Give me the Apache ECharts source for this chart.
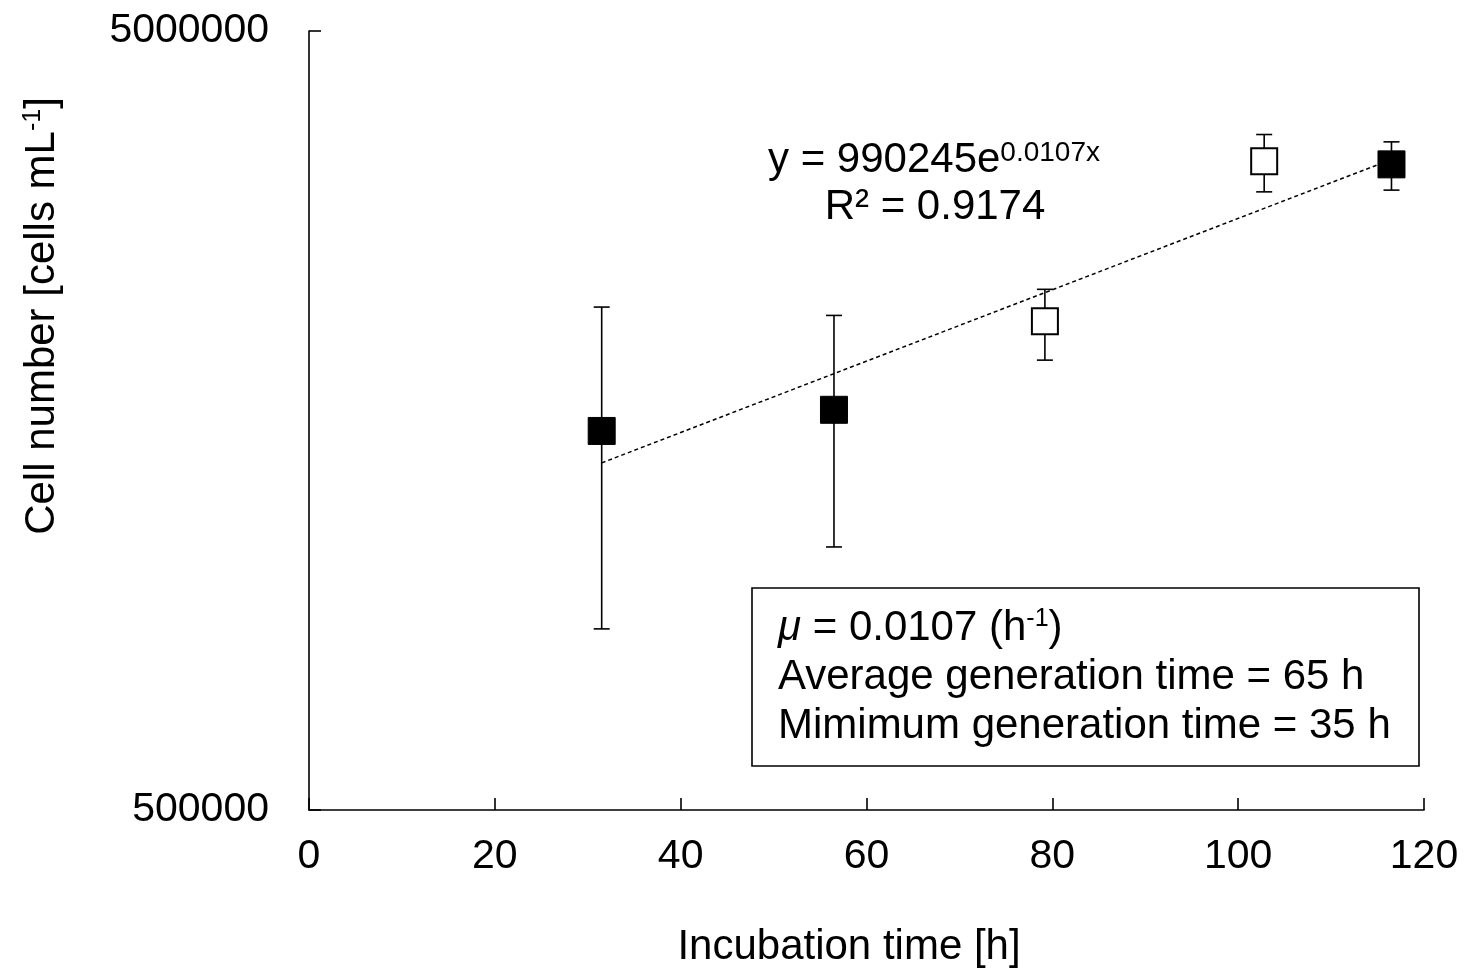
<!DOCTYPE html>
<html><head><meta charset="utf-8">
<script src="https://cdn.jsdelivr.net/npm/echarts@6/dist/echarts.min.js"></script>
<style>html,body{margin:0;padding:0;background:#fff}#c{width:1464px;height:970px}</style>
</head><body><div id="c"></div>
<script>
// Incubation time [h]
const times = [31.5, 56.5, 79.2, 102.8, 116.5];
// Cell number [cells mL-1]
const means = [1533000, 1632000, 2120000, 3403000, 3371000];
const upper = [2211000, 2157000, 2330000, 3682000, 3603000];
const lower = [854000, 1088000, 1890000, 3108000, 3124000];
const markerFill = ['filled', 'filled', 'open', 'open', 'filled'];
// exponential trendline end points (straight on log axis)
const trendX = [31.5, 116.5];
const trendY = [1395000, 3420000];
const xTicks = [0, 20, 40, 60, 80, 100, 120];
const yTicks = [500000, 5000000];

const FONT = "'Liberation Sans', Arial, Helvetica, sans-serif";
const FS = 42;
const chart = echarts.init(document.getElementById('c'), null, {renderer: 'canvas'});

const filledData = [], openData = [], errData = [];
times.forEach((t, i) => {
  (markerFill[i] === 'filled' ? filledData : openData).push([t, means[i]]);
  errData.push([t, lower[i], upper[i]]);
});

const option = {
  backgroundColor: '#fff',
  animation: false,
  grid: {left: 309, right: 40, top: 31, bottom: 160, containLabel: false},
  xAxis: {
    type: 'value', min: xTicks[0], max: xTicks[xTicks.length - 1], interval: 20,
    axisLine: {show: true, onZero: false, lineStyle: {color: '#000', width: 1.6}},
    axisTick: {show: true, inside: true, length: 12, lineStyle: {color: '#000', width: 1.6}},
    axisLabel: {color: '#000', fontSize: 41, fontFamily: FONT, margin: 26},
    splitLine: {show: false}
  },
  yAxis: {
    type: 'log', logBase: 10, min: yTicks[0], max: yTicks[yTicks.length - 1],
    axisLine: {show: true, lineStyle: {color: '#000', width: 1.6}},
    axisTick: {show: true, inside: true, length: 12, customValues: yTicks, lineStyle: {color: '#000', width: 1.6}},
    axisLabel: {color: '#000', fontSize: 41, fontFamily: FONT, margin: 40, customValues: yTicks,
      formatter: v => String(Math.round(v))},
    splitLine: {show: false},
    minorTick: {show: false}
  },
  series: [
    {
      type: 'line', data: trendX.map((x, i) => [x, trendY[i]]),
      showSymbol: false, symbol: 'none', z: 2,
      lineStyle: {color: '#000', width: 1.5, type: [4, 3]}
    },
    {
      type: 'custom', z: 3, data: errData, encode: {x: 0, y: [1, 2]},
      renderItem: (params, api) => {
        const x = api.value(0);
        const lo = api.coord([x, api.value(1)]);
        const hi = api.coord([x, api.value(2)]);
        const cw = 8;
        const st = {stroke: '#000', lineWidth: 1.6};
        return {type: 'group', children: [
          {type: 'line', shape: {x1: lo[0], y1: lo[1], x2: hi[0], y2: hi[1]}, style: st},
          {type: 'line', shape: {x1: hi[0] - cw, y1: hi[1], x2: hi[0] + cw, y2: hi[1]}, style: st},
          {type: 'line', shape: {x1: lo[0] - cw, y1: lo[1], x2: lo[0] + cw, y2: lo[1]}, style: st}
        ]};
      }
    },
    {
      type: 'scatter', data: filledData, symbol: 'rect', symbolSize: 27, z: 5,
      itemStyle: {color: '#000', borderColor: '#000', borderWidth: 1, opacity: 1},
      emphasis: {disabled: true}
    },
    {
      type: 'scatter', data: openData, symbol: 'rect', symbolSize: 26, z: 5,
      itemStyle: {color: '#fff', borderColor: '#000', borderWidth: 2, opacity: 1},
      emphasis: {disabled: true}
    }
  ],
  graphic: [
    {
      type: 'text', x: 768, y: 160, z: 10,
      style: {
        text: 'y = 990245e{sup|0.0107x}', fill: '#000',
        fontSize: FS, fontFamily: FONT, textAlign: 'left', textVerticalAlign: 'middle',
        rich: {sup: {fontSize: 28, fontFamily: FONT, fill: '#000', verticalAlign: 'top', lineHeight: 28}}
      }
    },
    {
      type: 'text', x: 935, y: 207, z: 10,
      style: {text: 'R² = 0.9174', fill: '#000', fontSize: FS, fontFamily: FONT,
        textAlign: 'center', textVerticalAlign: 'middle'}
    },
    {
      type: 'rect', z: 10,
      shape: {x: 752, y: 588, width: 667, height: 178},
      style: {fill: '#fff', stroke: '#000', lineWidth: 1.6}
    },
    {
      type: 'text', x: 778, y: 628, z: 11,
      style: {
        text: '{it|μ} = 0.0107 (h{sup|-1})', fill: '#000', fontSize: FS, fontFamily: FONT,
        textAlign: 'left', textVerticalAlign: 'middle',
        rich: {
          it: {fontSize: FS, fontFamily: FONT, fontStyle: 'italic', fill: '#000'},
          sup: {fontSize: 25, fontFamily: FONT, fill: '#000', verticalAlign: 'top', lineHeight: 25}
        }
      }
    },
    {
      type: 'text', x: 778, y: 677, z: 11,
      style: {text: 'Average generation time = 65 h', fill: '#000', fontSize: FS, fontFamily: FONT,
        textAlign: 'left', textVerticalAlign: 'middle'}
    },
    {
      type: 'text', x: 778, y: 726, z: 11,
      style: {text: 'Mimimum generation time = 35 h', fill: '#000', fontSize: FS, fontFamily: FONT,
        textAlign: 'left', textVerticalAlign: 'middle'}
    },
    {
      type: 'text', x: 849, y: 947, z: 10,
      style: {text: 'Incubation time [h]', fill: '#000', fontSize: FS, fontFamily: FONT,
        textAlign: 'center', textVerticalAlign: 'middle'}
    },
    {
      type: 'text', x: 42, y: 316, rotation: Math.PI / 2, z: 10,
      style: {
        text: 'Cell number [cells mL{sup|-1}]', fill: '#000', fontSize: FS, fontFamily: FONT,
        textAlign: 'center', textVerticalAlign: 'middle',
        rich: {sup: {fontSize: 25, fontFamily: FONT, fill: '#000', verticalAlign: 'top', lineHeight: 25}}
      }
    }
  ]
};
chart.setOption(option);
</script>
</body></html>
